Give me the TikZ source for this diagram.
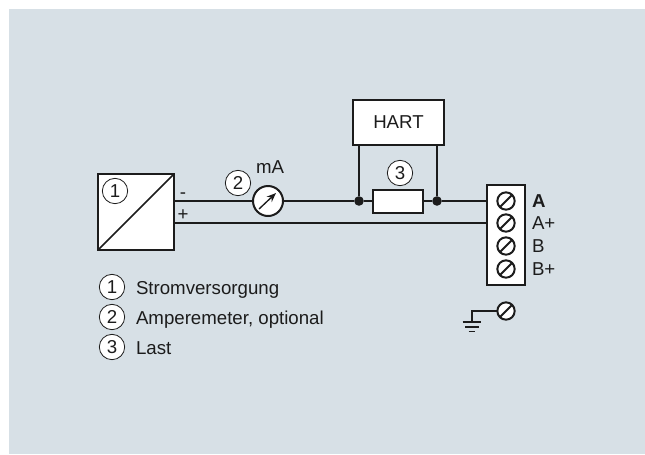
\documentclass[tikz,border=0pt]{standalone}
\usepackage{fontspec}
\setmainfont{Liberation Sans}
\usetikzlibrary{arrows.meta}
\definecolor{panelgrey}{RGB}{215,224,230}
\definecolor{inkdark}{RGB}{28,28,28}
\begin{document}
\begin{tikzpicture}[x=0.75pt,y=-0.75pt,every node/.style={inner sep=0pt,outer sep=0pt,text=inkdark}]

		\tikzset{
			box/.style={draw=inkdark, line width=1.5pt, fill=white},
			wire/.style={draw=inkdark, line width=1.1pt},
			callout/.style={circle, draw=inkdark, line width=0.6pt, fill=white, minimum size=19pt, font=\fontsize{14pt}{16pt}\selectfont},
			label/.style={font=\fontsize{14pt}{16pt}\selectfont},
			screw/.style={circle, draw=inkdark, line width=1.5pt, fill=white, minimum size=13pt,
				path picture={\draw[line width=1.5pt, inkdark] (path picture bounding box.south west) -- (path picture bounding box.north east);}},
			junction/.style={circle, fill=inkdark, minimum size=7.2pt}
		}

		% panel
		\useasboundingbox (0,0) rectangle (645,454);
		\fill[white] (0,0) rectangle (645,454);
		\fill[panelgrey] (9,9) rectangle (645,454);

		% parts
		\node[box, minimum size=57pt] (supply) at (136,212) {};
		\node[box, minimum width=68.25pt, minimum height=33.75pt, label] (hart) at (398.5,122.5) {HART};
		\node[box, minimum width=37.5pt, minimum height=17.25pt] (load) at (398,201) {};
		\node[box, minimum width=28.5pt, minimum height=75pt] (terminal) at (506,235) {};
		\node[circle, draw=inkdark, line width=1.5pt, fill=white, minimum size=22.5pt] (meter) at (268,201) {};
		\node[junction] (joinleft) at (359,201) {};
		\node[junction] (joinright) at (437,201) {};

		% terminal screws
		\foreach \name/\ypos/\txt in {a/201/\textbf{A}, ap/223/A+, b/246/B, bp/269/B+} {
			\node[screw] (screw\name) at (506,\ypos) {};
			\node[label, anchor=west] (text\name) at (532,\ypos) {\txt};
		}
		\node[screw] (screwearth) at (506,311) {};

		% wiring
		\draw[wire] (supply.east |- meter) -- (meter.west);
		\draw[wire] (meter.east) -- (joinleft);
		\draw[wire] (joinleft) -- (load.west);
		\draw[wire] (load.east) -- (joinright);
		\draw[wire] (joinright) -- (joinright -| terminal.west);
		\draw[wire] (joinleft) -- (joinleft |- hart.south);
		\draw[wire] (joinright) -- (joinright |- hart.south);
		\draw[wire] (supply.east |- screwap) -- (terminal.west |- screwap);

		% earth
		\coordinate (earth) at (472,322);
		\draw[wire] (screwearth.west) -| (earth);
		\draw[wire] ([xshift=-7pt]earth) -- ([xshift=7pt]earth);
		\draw[wire] ([xshift=-5pt,yshift=-3.6pt]earth) -- ([xshift=5pt,yshift=-3.6pt]earth);
		\draw[wire] ([xshift=-2.5pt,yshift=-7pt]earth) -- ([xshift=2.5pt,yshift=-7pt]earth);

		% markings and text
		\draw[line width=1.3pt, inkdark] (supply.south west) -- (supply.north east);
		\draw[line width=1pt, inkdark, -{Stealth[length=7pt,width=5.5pt]}] ([shift={(-9,8)}]meter.center) -- ([shift={(8,-8)}]meter.center);

		\node[callout] (markone) at (115,191) {1};
		\node[callout] (marktwo) at (238,183) {2};
		\node[callout] (markthree) at (400,173) {3};

		\node[label] (unit) at (270,167) {mA};
		\node[label] (minus) at (183,196) {-};
		\node[label] (plus) at (183,215) {+};

		% legend
		\foreach \i/\txt in {1/Stromversorgung, 2/{Amperemeter, optional}, 3/Last} {
			\node[callout] (legend\i) at (112,257+30*\i) {\i};
			\node[label, anchor=base west] (legendtext\i) at (136,264+30*\i) {\txt};
		}

\end{tikzpicture}
\end{document}
